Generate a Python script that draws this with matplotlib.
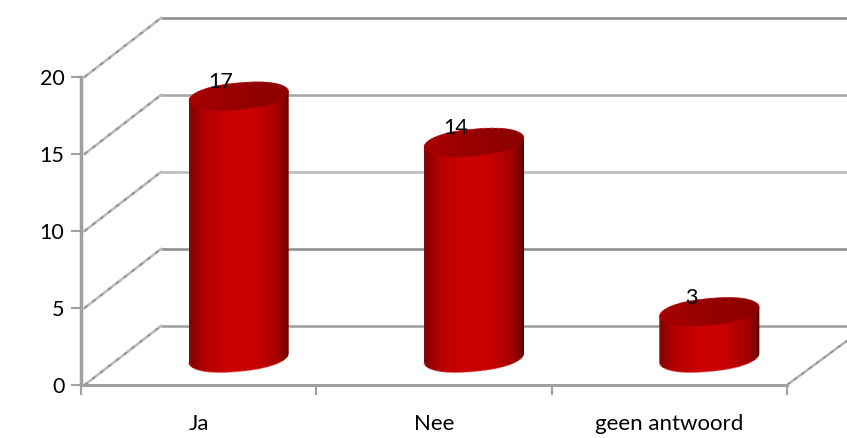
import matplotlib

matplotlib.use("Agg")
import matplotlib.pyplot as plt
import numpy as np
from matplotlib.colors import LinearSegmentedColormap
from matplotlib.patches import Polygon

categories = ["Ja", "Nee", "geen antwoord"]
values = [17, 14, 3]
y_ticks = [0, 5, 10, 15, 20]
wall_colors = ["#a0a0a0", "#909090", "#bcbcbc", "#a8a8a8", "#8c8c8c"]

plt.rcParams["font.family"] = ["Lato", "DejaVu Sans"]

W, H = 847, 438
# front plane of the 3d box, in pixels
LEFT, RIGHT, BOTTOM, TOP = 81, 787, 385, 77
DEPTH_X = 80 / ((RIGHT - LEFT) / 3)  # depth of the box in category units
DEPTH_Y = 59 / ((BOTTOM - TOP) / 20)  # depth of the box in value units
BAR_HALF = 50 / ((RIGHT - LEFT) / 3)
MINOR = 13.5 / ((BOTTOM - TOP) / 20)
TILT = 4.5 / ((BOTTOM - TOP) / 20)
BASE = 1.75
FONT = 15.5

side_cmap = LinearSegmentedColormap.from_list(
    "side",
    [
        (0.0, "#7a1010"),
        (0.03, "#8a0000"),
        (0.15, "#b40000"),
        (0.4, "#cc0000"),
        (0.66, "#c80000"),
        (0.88, "#a40000"),
        (0.97, "#780000"),
        (1.0, "#480000"),
    ],
)
top_cmap = LinearSegmentedColormap.from_list(
    "top", [(0.0, "#a80000"), (0.5, "#960000"), (1.0, "#8c0000")]
)


def ellipse(cx, cy, start=0.0, stop=2 * np.pi, n=120):
    t = np.linspace(start, stop, n)
    # a little squarer than a true ellipse, the way the 3d cap was rendered
    c = np.sign(np.cos(t)) * np.abs(np.cos(t)) ** 0.85
    x = cx + BAR_HALF * c
    y = cy + MINOR * np.sin(t) + TILT * c
    return x, y


def cylinder(ax, cx, value):
    y_top = BASE + value
    # outline of body: upper half of the top ellipse, lower half of the bottom one
    xt, yt = ellipse(cx, y_top, 0, np.pi)
    xb, yb = ellipse(cx, BASE, np.pi, 2 * np.pi)
    body = Polygon(np.c_[np.r_[xt, xb], np.r_[yt, yb]], closed=True, fc="none", ec="none")
    ax.add_patch(body)
    grad = np.linspace(0, 1, 256).reshape(1, -1)
    im = ax.imshow(
        grad,
        cmap=side_cmap,
        extent=(cx - BAR_HALF, cx + BAR_HALF, BASE - 2, y_top + 2),
        aspect="auto",
        zorder=3,
    )
    im.set_clip_path(body)
    ax.plot(xb, yb, color="#e87878", lw=0.8, ls=(0, (4, 3)), zorder=3, alpha=0.7)

    xe, ye = ellipse(cx, y_top)
    cap = Polygon(np.c_[xe, ye], closed=True, fc="none", ec="none")
    ax.add_patch(cap)
    im2 = ax.imshow(
        grad,
        cmap=top_cmap,
        extent=(cx - BAR_HALF, cx + BAR_HALF, y_top - 2, y_top + 2),
        aspect="auto",
        zorder=4,
    )
    im2.set_clip_path(cap)
    ax.plot(xt, yt, color="#d86060", lw=0.7, ls=(0, (4, 3)), zorder=4, alpha=0.6)


fig = plt.figure(figsize=(W / 100, H / 100), dpi=100)
ax = fig.add_axes(
    [LEFT / W, 1 - BOTTOM / H, (RIGHT - LEFT) / W, (BOTTOM - TOP) / H]
)
xs = np.arange(len(categories))
x_min, x_max = -0.5, len(categories) - 0.5

# back wall and side wall
for v, c in zip(y_ticks, wall_colors):
    ax.plot(
        [x_min + DEPTH_X, x_max + DEPTH_X],
        [v + DEPTH_Y, v + DEPTH_Y],
        color=c,
        lw=1.9,
        clip_on=False,
        zorder=1,
        solid_capstyle="butt",
    )
    ax.plot(
        [x_min + 0.015, x_min + DEPTH_X],
        [v, v + DEPTH_Y],
        color="#bcbcbc",
        lw=1.9,
        clip_on=False,
        zorder=1,
    )
    # the slanted lines look speckled in the original
    ax.plot(
        [x_min + 0.015, x_min + DEPTH_X],
        [v, v + DEPTH_Y],
        color="#8a8a8a",
        lw=1.1,
        ls=(0, (2.5, 4)),
        clip_on=False,
        zorder=1,
    )
# floor edge on the right
ax.plot(
    [x_max, x_max + DEPTH_X],
    [0, DEPTH_Y],
    color="#b0b0b0",
    lw=1.7,
    clip_on=False,
    zorder=1,
)
ax.plot(
    [x_max, x_max + DEPTH_X],
    [0, DEPTH_Y],
    color="#8a8a8a",
    lw=1.0,
    ls=(0, (2.5, 4)),
    clip_on=False,
    zorder=1,
)

for x, value in zip(xs, values):
    cylinder(ax, x + DEPTH_X / 2, value)
    ax.annotate(
        str(value),
        (x + DEPTH_X / 2, BASE + value),
        xytext=(-18, 14),
        textcoords="offset pixels",
        ha="center",
        va="center",
        fontsize=FONT,
        color="black",
        zorder=5,
        annotation_clip=False,
    )

ax.set_xlim(x_min, x_max)
ax.set_ylim(0, 20)
ax.patch.set_alpha(0)

for s in ["top", "right"]:
    ax.spines[s].set_visible(False)
ax.spines["left"].set_color("#a0a0a0")
ax.spines["left"].set_linewidth(2.5)
ax.spines["bottom"].set_color("#a0a0a0")
ax.spines["bottom"].set_linewidth(2.2)

ax.set_yticks(y_ticks)
ax.set_yticklabels([str(v) for v in y_ticks], fontsize=FONT)
ax.tick_params(axis="y", length=7, width=1.5, color="#a0a0a0", pad=5, labelcolor="black")

# ticks sit between the categories, labels are centred under them
ax.set_xticks(np.arange(x_min, x_max + 1))
ax.set_xticklabels([])
ax.set_xticks(xs, minor=True)
ax.set_xticklabels(categories, minor=True, fontsize=FONT + 0.5)
ax.tick_params(axis="x", which="major", length=7, width=1.5, color="#a0a0a0")
ax.tick_params(axis="x", which="minor", length=0, pad=21, labelcolor="black")

fig.savefig("out.png", dpi=100)
plt.close(fig)
